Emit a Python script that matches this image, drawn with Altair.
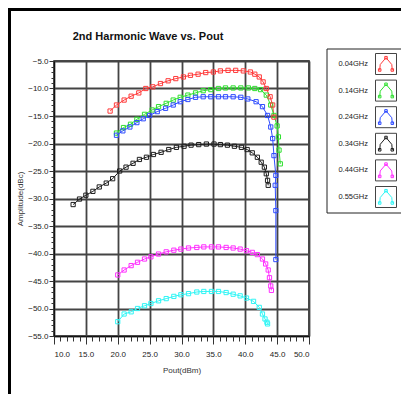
import altair as alt
import pandas as pd

series = ["0.04GHz", "0.14GHz", "0.24GHz", "0.34GHz", "0.44GHz", "0.55GHz"]
colors = ["#ff3b3b", "#2fe02f", "#2f4cff", "#1e1e1e", "#ff2fff", "#2ff5f5"]

x_004 = [18.8, 19.8, 21.0, 22.1, 23.3, 24.4, 25.5, 26.7, 27.9, 29.1, 30.3, 31.4, 32.6, 33.8, 35.0, 36.1,
         37.3, 38.5, 39.7, 40.8, 41.5, 42.2, 42.8, 43.3, 43.9, 44.3, 44.5]
y_004 = [-14.1, -13.0, -12.1, -11.4, -10.8, -10.0, -9.7, -9.1, -8.6, -8.2, -7.9, -7.6, -7.4, -7.1, -7.0, -6.8,
         -6.7, -6.7, -6.8, -7.0, -7.4, -7.9, -8.8, -10.0, -11.5, -13.0, -15.2]

x_014 = [19.8, 20.9, 22.0, 23.0, 24.2, 25.4, 26.4, 27.6, 28.7, 29.8, 31.0, 32.2, 33.4, 34.6, 35.8, 36.9,
         38.1, 39.3, 40.5, 41.5, 42.4, 43.3, 44.0, 44.5, 45.0, 45.2, 45.3, 45.5]
y_014 = [-18.1, -17.1, -16.5, -15.6, -14.7, -13.9, -13.3, -12.7, -12.1, -11.6, -11.2, -10.8, -10.4, -10.2, -10.0, -9.9,
         -9.9, -9.9, -9.9, -10.0, -10.2, -11.2, -13.0, -14.9, -16.8, -18.8, -21.2, -23.7]

x_024 = [19.8, 20.8, 21.9, 23.0, 24.0, 25.0, 26.2, 27.5, 28.7, 29.8, 31.0, 32.2, 33.4, 34.6, 35.8, 36.9,
         38.1, 39.3, 40.4, 41.7, 42.7, 43.5, 44.0, 44.3, 44.5, 44.8, 44.7, 44.8, 44.8]
y_024 = [-18.5, -17.7, -17.0, -16.2, -15.5, -14.9, -14.2, -13.6, -13.0, -12.4, -12.0, -11.6, -11.5, -11.5, -11.5, -11.5,
         -11.5, -11.6, -11.9, -12.4, -13.3, -14.9, -17.0, -19.1, -22.2, -25.8, -27.6, -32.2, -41.1]

x_034 = [13.0, 14.0, 15.0, 16.1, 17.1, 18.2, 19.2, 20.3, 21.3, 22.4, 23.4, 24.5, 25.6, 26.8, 28.0, 29.2,
         30.4, 31.5, 32.7, 33.9, 35.1, 36.1, 37.2, 38.3, 39.4, 40.3, 41.1, 41.9, 42.5, 43.0, 43.3, 43.5, 43.6]
y_034 = [-31.1, -30.1, -29.4, -28.7, -27.9, -27.2, -26.4, -25.0, -24.3, -23.6, -22.9, -22.5, -22.0, -21.6, -21.1, -20.7,
         -20.5, -20.3, -20.2, -20.1, -20.1, -20.2, -20.3, -20.5, -20.7, -21.1, -21.7, -22.5, -23.4, -24.3, -25.5, -26.7, -27.6]

x_044 = [20.0, 21.0, 22.1, 23.1, 24.2, 25.2, 26.4, 27.6, 28.8, 29.9, 31.1, 32.4, 33.5, 34.7, 35.8, 37.0,
         38.1, 39.2, 40.2, 41.1, 41.9, 42.7, 43.2, 43.6, 43.8, 44.0, 44.1]
y_044 = [-43.9, -43.0, -42.2, -41.6, -41.0, -40.6, -40.1, -39.7, -39.4, -39.2, -39.0, -38.9, -38.8, -38.8, -38.8, -38.9,
         -39.0, -39.2, -39.5, -39.8, -40.2, -41.0, -41.9, -43.0, -44.4, -45.9, -46.7]

x_055 = [20.0, 21.0, 22.1, 23.1, 24.2, 25.2, 26.4, 27.6, 28.8, 29.9, 31.1, 32.4, 33.5, 34.7, 35.8, 37.0,
         38.1, 39.2, 40.2, 41.3, 42.2, 42.7, 43.1, 43.4, 43.5]
y_055 = [-52.4, -51.0, -50.6, -50.0, -49.5, -49.1, -48.6, -48.2, -47.8, -47.5, -47.3, -47.0, -46.9, -46.9, -46.9, -47.1,
         -47.4, -47.7, -48.1, -48.7, -49.8, -51.0, -51.9, -52.5, -52.8]

x_ticks = [10, 15, 20, 25, 30, 35, 40, 45, 50]
y_ticks = [-5, -10, -15, -20, -25, -30, -35, -40, -45, -50, -55]

rows = []
for s, xs_, ys_ in zip(series, [x_004, x_014, x_024, x_034, x_044, x_055],
                       [y_004, y_014, y_024, y_034, y_044, y_055]):
    for i, (a, b) in enumerate(zip(xs_, ys_)):
        rows.append({"series": s, "i": i, "pout": a, "amp": b})
df = pd.DataFrame(rows)
leg = pd.DataFrame({"series": series})
one = pd.DataFrame({"t": ["2nd Harmonic Wave vs. Pout"]})

FONT = "Liberation Sans Narrow, Arial Narrow, Liberation Sans, sans-serif"

color = alt.Color("series:N", scale=alt.Scale(domain=series, range=colors), legend=None)
xsc = alt.Scale(domain=[10, 50], nice=False, zero=False)
ysc = alt.Scale(domain=[-55, -5], nice=False, zero=False)

main = alt.Chart(df).mark_line(
    strokeWidth=1,
    point=alt.OverlayMarkDef(shape="square", filled=False, size=18, strokeWidth=1),
).encode(
    x=alt.X("pout:Q", scale=xsc, axis=alt.Axis(
        values=x_ticks, format=".1f", title="Pout(dBm)", tickSize=8, labelPadding=6,
        titlePadding=8, orient="bottom")),
    y=alt.Y("amp:Q", scale=ysc, axis=alt.Axis(
        values=y_ticks, format=".1f", title="Amplitude(dBc)", tickSize=5, labelPadding=1,
        titlePadding=3, orient="left")),
    color=color,
    order=alt.Order("i:Q"),
)

minor = alt.Chart(df).mark_point(opacity=0).encode(
    x=alt.X("pout:Q", scale=xsc, axis=alt.Axis(
        values=list(range(10, 51)), labels=False, grid=False, domain=False, tickSize=5,
        title=None, orient="bottom")),
    y=alt.Y("amp:Q", scale=ysc, axis=alt.Axis(
        values=list(range(-55, -4)), labels=False, grid=False, domain=False, tickSize=3,
        title=None, orient="left")),
)

ly = alt.Y("series:N", scale=alt.Scale(domain=series, type="point", range=[3, 136], padding=0), axis=None)

leg_frame = alt.Chart(one).mark_rect(fill="white", stroke="#222", strokeWidth=1).encode(
    x=alt.value(273), x2=alt.value(348), y=alt.value(-12), y2=alt.value(152))

icon_box = alt.Chart(leg).mark_point(shape="square", size=441, filled=False, stroke="#444",
                                     strokeWidth=1, opacity=1).encode(x=alt.value(332), y=ly)

vpath = ("M-0.6,0.6 L-0.55,0.05 L0,-0.6 L0.55,0.05 L0.6,0.6 "
         "M-0.72,0.45 h0.24 v0.24 h-0.24 Z M0.48,0.45 h0.24 v0.24 h-0.24 Z "
         "M-0.12,-0.72 h0.24 v0.24 h-0.24 Z")
icon_shape = alt.Chart(leg).mark_point(shape=vpath, size=441, filled=False, strokeWidth=1,
                                       opacity=1).encode(x=alt.value(332), y=ly, color=color)

leg_text = alt.Chart(leg).mark_text(align="right", baseline="middle", fontSize=7.5, font=FONT,
                                    color="#222").encode(x=alt.value(314), y=ly, text="series:N")

title = alt.Chart(one).mark_text(fontSize=11, fontWeight="bold", font=FONT, color="#111",
                                 baseline="middle", align="center").encode(
    x=alt.value(94), y=alt.value(-24), text="t:N")

frame_left = alt.Chart(one).mark_rule(color="black", strokeWidth=3).encode(
    x=alt.value(-44.5), y=alt.value(-53), y2=alt.value(333))
frame_top = alt.Chart(one).mark_rule(color="black", strokeWidth=3).encode(
    x=alt.value(-46), x2=alt.value(347), y=alt.value(-51.5))

chart = alt.layer(
    main, minor, leg_frame, icon_box, icon_shape, leg_text, title, frame_left, frame_top
).resolve_scale(y="independent").resolve_axis(x="independent", y="independent").properties(
    width=255, height=275,
    autosize=alt.AutoSizeParams(type="none"),
    padding={"left": 46, "top": 53, "right": 92, "bottom": 58},
).configure_view(stroke="#111", strokeWidth=1.5).configure_axis(
    gridColor="#444", gridWidth=1.8, gridOpacity=1, domainColor="#111", tickColor="#333",
    labelFont=FONT, labelFontSize=8, labelColor="#222", titleFont=FONT, titleFontSize=8,
    titleFontWeight="normal", titleColor="#333",
)

chart.save("out.html", embed_options={"renderer": "svg", "actions": False})
